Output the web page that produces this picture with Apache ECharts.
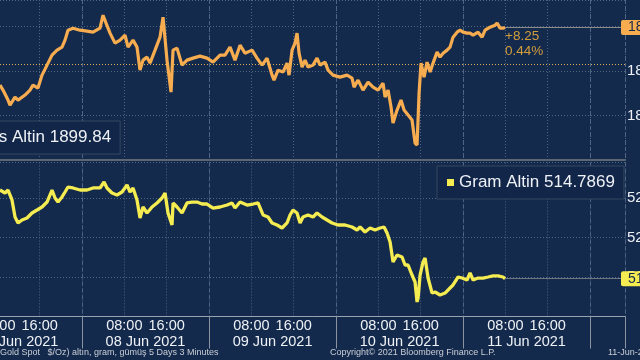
<!DOCTYPE html>
<html><head><meta charset="utf-8">
<script src="https://cdn.jsdelivr.net/npm/echarts@6/dist/echarts.min.js"></script>
<style>html,body{margin:0;padding:0;background:#142a4d;}#c{width:640px;height:360px;}</style>
</head><body><div id="c"></div>
<script>
// hours counted from 07 Jun 2021 00:00
const dayLabels = ['07 Jun 2021','08 Jun 2021','09 Jun 2021','10 Jun 2021','11 Jun 2021','12 Jun 2021'];
const hourLabels = {8: '08:00', 16: '16:00'};
const goldName = 'Ons Altin';
const gramName = 'Gram Altin';
const goldPrevClose = 1891.59;
const goldHours = [8.50,9.07,10.02,10.39,11.34,11.91,13.23,14.17,14.74,15.68,16.44,17.39,18.33,19.28,20.22,20.79,21.35,22.30,23.62,24.94,26.08,27.40,27.97,28.54,29.29,30.24,31.18,32.13,32.69,33.64,34.39,34.96,35.53,36.28,36.85,37.80,38.74,39.31,40.06,40.82,41.20,41.95,42.90,43.84,44.98,46.30,47.62,48.76,50.08,51.02,51.97,52.91,53.86,54.80,56.13,57.07,58.02,58.96,59.91,60.28,61.04,61.98,62.74,63.12,63.69,64.25,64.63,65.01,65.58,66.14,66.71,67.65,68.41,68.98,69.92,70.49,71.43,72.76,74.08,75.02,75.40,76.16,77.10,78.05,78.99,79.94,80.88,81.26,81.83,82.39,82.77,83.53,84.28,84.85,85.61,86.36,86.93,87.31,87.69,88.06,88.63,89.20,89.77,90.33,91.09,91.65,92.22,92.98,93.54,94.11,94.87,95.43,96.00,96.76,97.32,97.89,98.84,99.59,100.16,101.10,102.05,102.43,102.99,103.56,103.94];
const goldValues = [1886.85,1885.73,1883.48,1882.36,1884.16,1883.48,1884.61,1885.73,1886.85,1886.18,1889.10,1891.35,1893.60,1894.72,1895.39,1896.97,1899.21,1899.66,1899.21,1898.99,1898.76,1899.66,1902.58,1900.79,1898.54,1896.29,1896.97,1898.09,1895.39,1896.97,1895.39,1890.22,1892.47,1893.15,1891.80,1894.72,1897.64,1902.13,1892.47,1885.28,1894.72,1895.17,1891.35,1892.47,1892.92,1893.37,1892.92,1892.02,1893.60,1893.60,1895.39,1892.47,1895.84,1894.04,1894.72,1892.92,1891.35,1892.92,1889.10,1887.98,1890.22,1889.78,1891.80,1889.10,1894.72,1896.29,1898.54,1894.04,1890.90,1892.47,1890.90,1891.35,1892.92,1891.35,1892.02,1890.22,1889.10,1888.65,1889.10,1888.43,1886.40,1887.98,1885.73,1887.53,1886.40,1885.73,1887.30,1884.16,1885.73,1881.91,1878.32,1881.24,1883.48,1881.24,1880.11,1878.99,1873.82,1873.37,1885.06,1891.80,1888.65,1892.02,1889.78,1891.80,1894.27,1893.15,1894.04,1894.72,1895.39,1897.64,1898.76,1899.21,1898.76,1898.54,1898.54,1898.09,1898.76,1897.64,1899.21,1899.89,1900.34,1900.79,1899.66,1899.66,1899.84];
const gramHours = [8.50,9.45,10.02,10.77,11.34,11.91,12.66,13.61,14.55,15.50,16.44,17.39,18.33,18.90,19.46,20.22,20.79,21.35,22.30,23.62,24.94,26.08,27.40,28.16,28.72,29.67,30.61,31.56,32.50,33.07,33.64,34.39,34.96,35.53,36.28,37.23,38.17,39.12,39.69,40.25,41.01,41.20,41.95,42.90,43.84,44.79,45.73,46.68,47.62,48.76,50.08,51.40,52.35,52.91,53.86,55.18,56.32,57.26,58.21,59.15,59.91,60.85,61.80,62.74,63.31,63.87,64.63,65.20,65.76,66.71,67.65,68.41,69.36,70.30,71.25,72.38,73.70,75.02,75.97,76.54,77.48,78.43,79.37,80.32,81.07,81.64,82.21,82.77,83.53,84.47,85.04,85.61,86.36,86.93,87.31,87.50,87.88,88.44,88.82,89.39,90.14,90.71,91.65,92.60,93.54,94.11,95.06,95.81,96.76,97.32,97.89,98.84,99.78,100.73,101.67,102.62,103.56,103.94];
const gramValues = [526.01,525.63,526.01,524.75,522.59,521.84,522.22,522.47,523.10,523.48,523.86,524.49,526.01,525.00,524.49,525.13,525.76,526.39,526.27,526.01,526.01,526.27,526.27,527.03,526.27,525.63,525.38,525.76,526.65,525.76,526.27,524.75,522.47,523.86,523.10,523.86,524.37,525.00,525.63,523.10,521.58,524.37,523.86,523.10,524.37,524.49,524.49,524.24,524.24,523.73,523.86,524.11,524.37,523.73,524.49,524.11,524.24,524.37,522.85,522.59,521.84,521.58,521.20,521.84,522.85,523.48,523.10,521.84,522.59,522.85,522.59,523.10,522.59,522.22,521.84,521.58,521.58,521.33,520.95,521.33,520.70,521.20,520.95,521.20,521.33,520.57,519.43,516.90,517.78,517.53,516.52,516.52,515.25,514.37,511.84,512.34,515.25,516.90,517.41,514.87,512.97,513.10,512.72,512.97,513.61,513.99,515.00,514.87,514.62,515.51,514.62,514.87,514.87,515.00,515.13,515.13,515.00,514.7869];
const footerLeft = 'Gold Spot   $/Oz) altın, gram, gümüş 5 Days 3 Minutes';
const footerMid = 'Copyright\u00a9 2021 Bloomberg Finance L.P.';
const footerRight = '11-Jun-2021';

const XMIN = 0, XMAX = 126.6;
const FONT = "'Liberation Sans', Arial, sans-serif";
const ORANGE = '#f7ad4f', YELLOW = '#f4ec50';
const GRID = '#4f6584';
const zip = (a, b) => a.slice(0, Math.min(a.length, b.length)).map((h, i) => [h, b[i]]);
const goldData = zip(goldHours, goldValues);
const gramData = zip(gramHours, gramValues);
const gLast = goldData[goldData.length - 1];
const mLast = gramData[gramData.length - 1];
const chg = gLast[1] - goldPrevClose;
const pct = chg / goldPrevClose * 100;

function splitAxis(grid, interval, type, opts) {
  return Object.assign({
    gridIndex: grid, type: 'value', position: 'bottom', min: XMIN, max: XMAX, interval: interval,
    axisLine: {show: false}, axisTick: {show: false}, axisLabel: {show: false},
    splitLine: {show: true, lineStyle: {color: GRID, type: type, width: 1}}
  }, opts || {});
}

const chart = echarts.init(document.getElementById('c'), null, {renderer: 'canvas'});
chart.setOption({
  animation: false,
  backgroundColor: '#142a4d',
  textStyle: {fontFamily: FONT},
  title: [
    {text: footerLeft, left: 0, top: 348, padding: 0, textStyle: {color: '#c9ced6', fontSize: 9, fontWeight: 'normal', fontFamily: FONT}},
    {text: footerMid, left: 330, top: 348, padding: 0, textStyle: {color: '#c9ced6', fontSize: 9, fontWeight: 'normal', fontFamily: FONT}},
    {text: footerRight, left: 608, top: 348, padding: 0, textStyle: {color: '#c9ced6', fontSize: 9, fontWeight: 'normal', fontFamily: FONT}}
  ],
  legend: [
    {data: [goldName], left: -46, top: 121, orient: 'horizontal', selectedMode: false,
     icon: 'rect', itemWidth: 7, itemHeight: 7, padding: [8, 9, 8, 10],
     backgroundColor: '#12264a', borderColor: '#34475f', borderWidth: 1,
     textStyle: {color: '#eef1f5', fontSize: 17, fontFamily: FONT},
     formatter: n => n + ' ' + gLast[1].toFixed(2)},
    {data: [gramName], left: 437, top: 166, orient: 'horizontal', selectedMode: false,
     icon: 'rect', itemWidth: 7, itemHeight: 7, padding: [8, 9, 8, 10],
     backgroundColor: '#12264a', borderColor: '#34475f', borderWidth: 1,
     textStyle: {color: '#eef1f5', fontSize: 17, fontFamily: FONT},
     formatter: n => n + ' ' + mLast[1].toFixed(4)}
  ],
  grid: [
    {left: -45, right: 15, top: 0, height: 160, containLabel: false, outerBoundsMode: 'none'},
    {left: -45, right: 15, top: 162.45, bottom: 43.5, containLabel: false, outerBoundsMode: 'none'}
  ],
  xAxis: [
    splitAxis(0, 8, [1, 2], {axisLine: {show: true, onZero: false, lineStyle: {color: '#5d6674', width: 2}}}),
    splitAxis(0, 24, [4, 3]),
    splitAxis(1, 8, [1, 2]),
    splitAxis(1, 24, [4, 3], {axisTick: {show: true, length: 32, lineStyle: {color: '#8a94a1', width: 1}}}),
    {gridIndex: 1, type: 'value', position: 'bottom', min: XMIN, max: XMAX, interval: 4,
     axisLine: {show: true, onZero: false, lineStyle: {color: '#9aa3ae', width: 1}},
     axisTick: {show: false}, splitLine: {show: false},
     axisLabel: {show: true, showMinLabel: true, showMaxLabel: false, hideOverlap: false,
       color: '#eef1f5', fontSize: 14.5, lineHeight: 16, margin: 1, fontFamily: FONT,
       formatter: v => {
         const h = Math.round(v), d = Math.floor(h / 24), r = h % 24;
         if (hourLabels[r]) return hourLabels[r];
         if (r === 12) return '\n' + (dayLabels[d] || '');
         return '';
       }}}
  ],
  yAxis: [
    {gridIndex: 0, type: 'value', position: 'right', min: 1870, max: 1906, interval: 10,
     axisLine: {show: true, lineStyle: {color: '#7e848c'}},
     axisTick: {show: true, length: 4, lineStyle: {color: ORANGE, width: 2}},
     minorTick: {show: true, splitNumber: 2, length: 3, lineStyle: {color: '#7e848c'}},
     splitLine: {show: true, lineStyle: {color: GRID, type: [1, 2]}},
     axisLabel: {color: '#eef1f5', fontSize: 15, margin: 2, showMinLabel: false, showMaxLabel: false, fontFamily: FONT,
       formatter: v => String(v)}},
    {gridIndex: 1, type: 'value', position: 'right', min: 510, max: 529.5, interval: 5,
     axisLine: {show: true, lineStyle: {color: '#7e848c'}},
     axisTick: {show: true, length: 4, lineStyle: {color: YELLOW, width: 2}},
     minorTick: {show: true, splitNumber: 2, length: 3, lineStyle: {color: '#7e848c'}},
     splitLine: {show: true, lineStyle: {color: GRID, type: [1, 2]}},
     axisLabel: {color: '#eef1f5', fontSize: 15, margin: 2, showMinLabel: false, showMaxLabel: false, fontFamily: FONT,
       formatter: v => String(v)}}
  ],
  series: [
    {name: goldName, type: 'line', xAxisIndex: 0, yAxisIndex: 0, data: goldData,
     showSymbol: false, symbol: 'none', color: ORANGE, lineStyle: {color: ORANGE, width: 3.2},
     markLine: {silent: true, symbol: ['none', 'none'], animation: false,
       data: [
         {yAxis: goldPrevClose, lineStyle: {type: [1, 2], color: '#d8b050', width: 1.2}, label: {show: false}},
         [{coord: [gLast[0], gLast[1]], lineStyle: {type: 'solid', color: '#8d8c86', width: 1},
           label: {show: true, position: 'end', distance: -4, formatter: () => gLast[1].toFixed(2),
             backgroundColor: ORANGE, color: '#142a4d', fontSize: 14, padding: [1, 4, 0, 7], borderRadius: 2, fontFamily: FONT}},
          {coord: [XMAX, gLast[1]]}]
       ]},
     markPoint: {silent: true, symbol: 'circle', symbolSize: 0,
       data: [{coord: [gLast[0], gLast[1]],
         label: {show: true, position: [0, 1], align: 'left', verticalAlign: 'top',
           formatter: () => '+' + chg.toFixed(2) + '\n' + pct.toFixed(2) + '%',
           color: '#d49d3c', fontSize: 13.5, lineHeight: 15, fontFamily: FONT}}]}},
    {name: gramName, type: 'line', xAxisIndex: 2, yAxisIndex: 1, data: gramData,
     showSymbol: false, symbol: 'none', color: YELLOW, lineStyle: {color: YELLOW, width: 3.3},
     markLine: {silent: true, symbol: ['none', 'none'], animation: false,
       data: [
         [{coord: [mLast[0], mLast[1]], lineStyle: {type: 'solid', color: '#6f7680', width: 1},
           label: {show: true, position: 'end', distance: -4, formatter: () => mLast[1].toFixed(2),
             backgroundColor: YELLOW, color: '#142a4d', fontSize: 14, padding: [1, 4, 0, 7], borderRadius: 2, fontFamily: FONT}},
          {coord: [XMAX, mLast[1]]}]
       ]}}
  ]
});
</script>
</body></html>
